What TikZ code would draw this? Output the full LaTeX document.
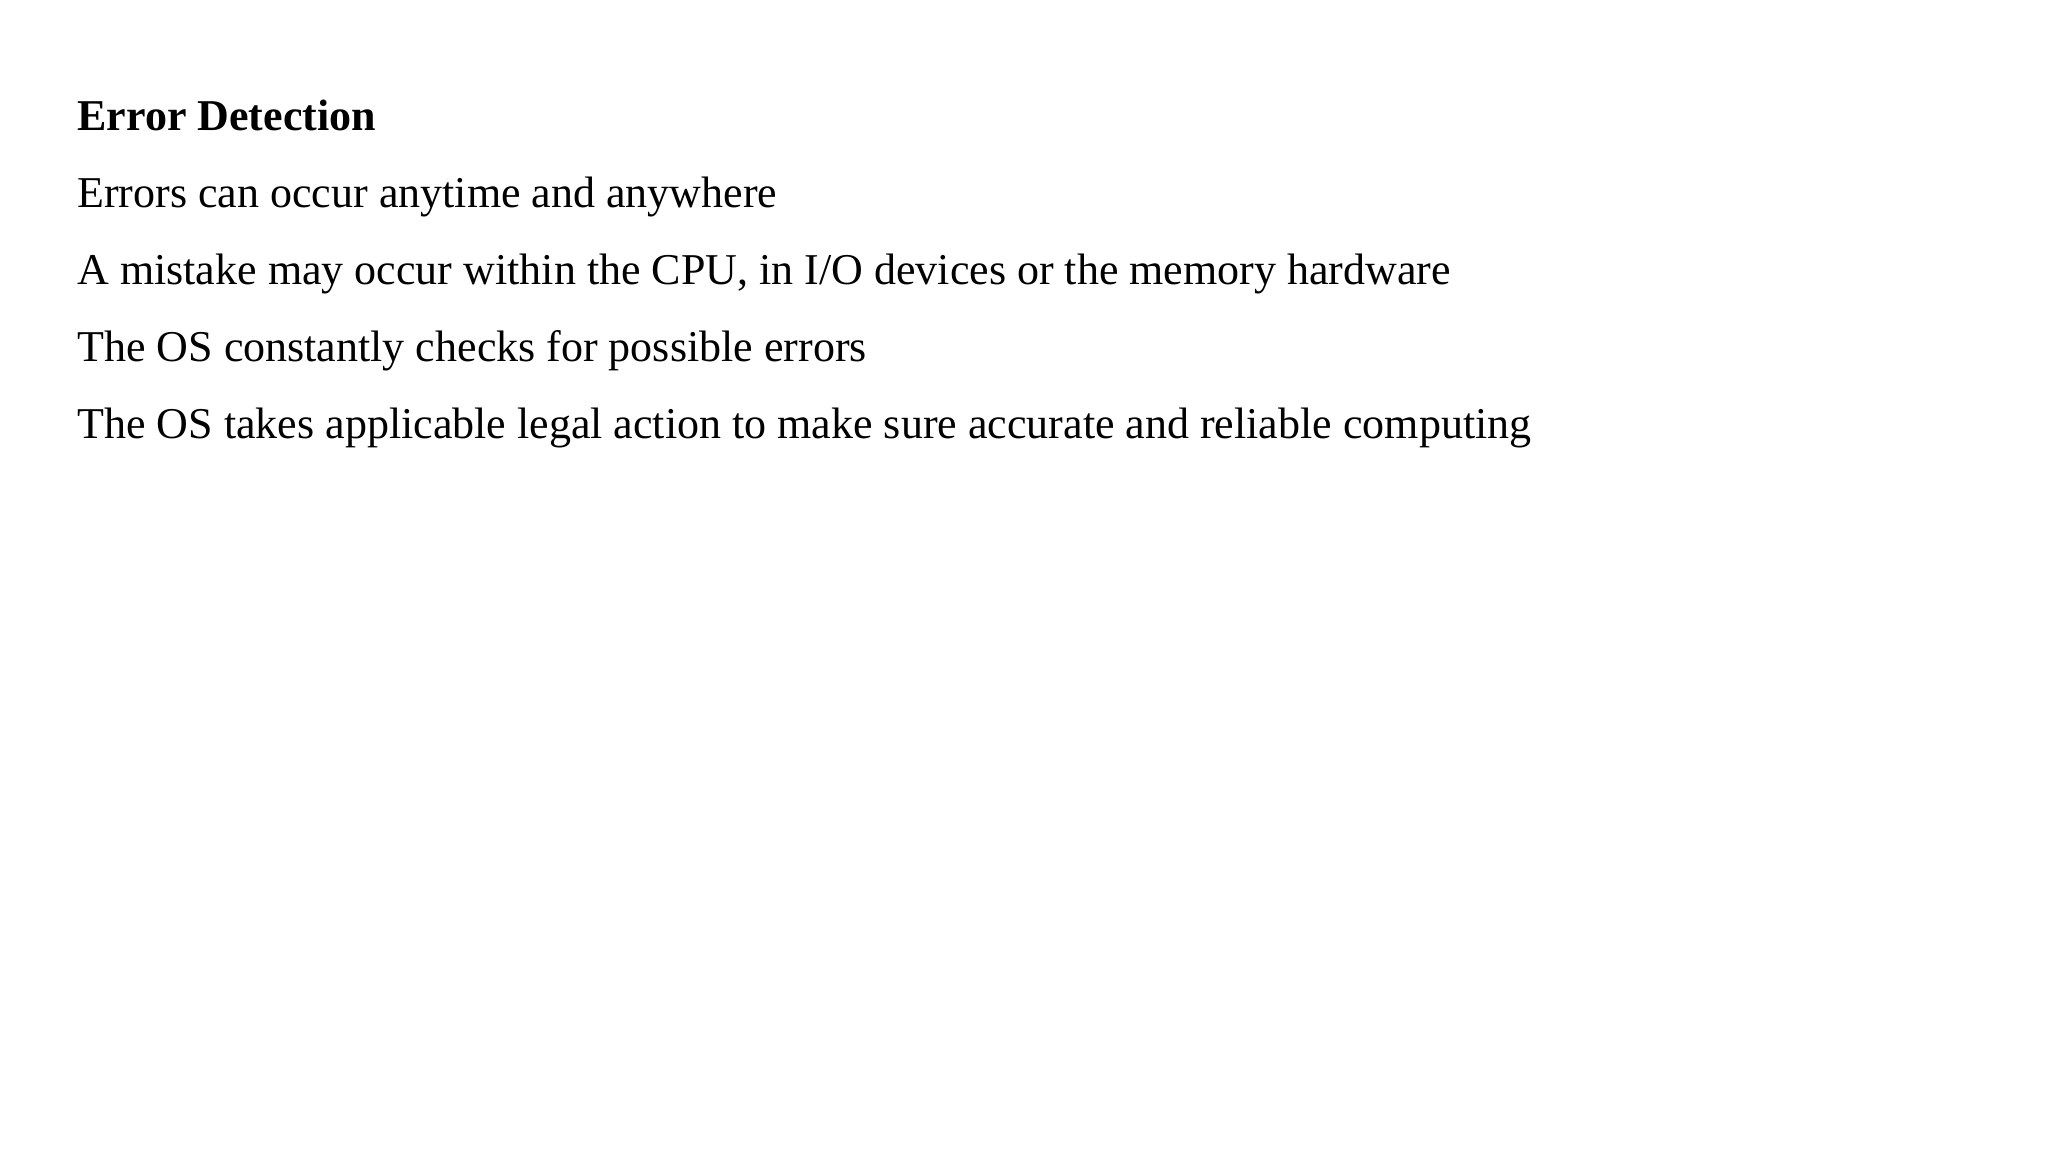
\documentclass[tikz,border=0pt]{standalone}
\usepackage{fontspec}
\setmainfont{Liberation Serif}
\begin{document}
\begin{tikzpicture}[x=1pt,y=1pt,line/.style={anchor=base west,inner sep=0pt,font=\fontsize{22}{26}\selectfont}]
\useasboundingbox (0,0) rectangle (1024,-576);
\node[line,font=\fontsize{22}{26}\selectfont\bfseries] (t) at (38.5,-65.3) {Error Detection};
\node[line] (a) at (38.5,-103.8) {Errors can occur anytime and anywhere};
\node[line] (b) at (38.5,-142.4) {A mistake may occur within the CPU, in I/O devices or the memory hardware};
\node[line] (c) at (38.5,-180.9) {The OS constantly checks for possible errors};
\node[line] (d) at (38.5,-219.4) {The OS takes applicable legal action to make sure accurate and reliable computing};
\end{tikzpicture}
\end{document}
